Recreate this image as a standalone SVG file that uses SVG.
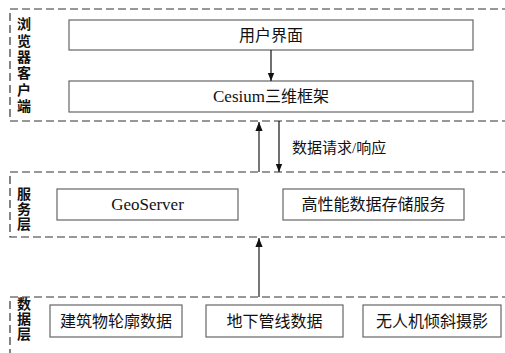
<svg xmlns="http://www.w3.org/2000/svg" width="505" height="353" viewBox="0 0 505 353">
<style>
.layer{fill:none;stroke:#333;stroke-width:1.2;stroke-dasharray:8,4}
.box{fill:#fff;stroke:#666;stroke-width:1.2}
.t{font-family:"Liberation Serif","Noto Sans CJK SC",serif;font-size:16px;fill:#111;text-anchor:middle}
.lat{font-size:17px}
.lab{font-family:"Noto Sans CJK SC","Liberation Sans",sans-serif;font-size:14px;font-weight:bold;fill:#111;writing-mode:vertical-rl;text-anchor:start}
.ak{stroke:#111;stroke-width:1.2;fill:none}
.ag{stroke:#777;stroke-width:2;fill:none}
</style>
<defs>
<marker id="hb" viewBox="0 0 10 10" refX="10" refY="5" markerWidth="8" markerHeight="8" markerUnits="userSpaceOnUse" orient="auto"><path d="M0,1 L10,5 L0,9 z" fill="#111"/></marker>
<marker id="hg" viewBox="0 0 10 10" refX="10" refY="5" markerWidth="9" markerHeight="9" markerUnits="userSpaceOnUse" orient="auto"><path d="M0,1 L10,5 L0,9 z" fill="#111"/></marker>
</defs>
<rect width="505" height="353" fill="#fff"/>
<g id="layer-browser">
<path class="layer" d="M510,9 H10 V121 H510"/>
<text class="lab" x="24" y="17" style="letter-spacing:2.3px">浏览器客户端</text>
</g>
<g id="layer-service">
<path class="layer" d="M510,172 H10 V237 H510"/>
<text class="lab" x="24" y="187" style="letter-spacing:1px">服务层</text>
</g>
<g id="layer-data">
<path class="layer" d="M510,297 H10 V360"/>
<text class="lab" x="24" y="297" style="letter-spacing:1px">数据层</text>
</g>
<g id="n-ui"><rect class="box" x="69" y="20" width="404" height="30"/><text class="t" x="271" y="41">用户界面</text></g>
<g id="n-cesium"><rect class="box" x="69" y="81" width="404" height="31"/><text class="t" x="271" y="102"><tspan class="lat">Cesium</tspan>三维框架</text></g>
<g id="n-geoserver"><rect class="box" x="57" y="189" width="181" height="31"/><text class="t lat" x="147.5" y="210">GeoServer</text></g>
<g id="n-storage"><rect class="box" x="283" y="189" width="181" height="31"/><text class="t" x="373.5" y="210">高性能数据存储服务</text></g>
<g id="n-building"><rect class="box" x="50" y="305" width="132" height="32"/><text class="t" x="116" y="327">建筑物轮廓数据</text></g>
<g id="n-pipe"><rect class="box" x="206" y="305" width="137" height="32"/><text class="t" x="274.5" y="327">地下管线数据</text></g>
<g id="n-uav"><rect class="box" x="363" y="305" width="138" height="32"/><text class="t" x="432" y="327">无人机倾斜摄影</text></g>
<g id="connectors">
<line class="ak" x1="271" y1="50" x2="271" y2="81" marker-end="url(#hb)"/>
<line class="ag" x1="259" y1="172" x2="259" y2="122" marker-end="url(#hg)"/>
<line class="ak" x1="279" y1="121" x2="279" y2="172" marker-end="url(#hb)"/>
<text class="t" x="292" y="153" style="text-anchor:start;font-size:15px">数据请求/响应</text>
<line class="ag" x1="259" y1="297" x2="259" y2="238" marker-end="url(#hg)"/>
</g>
</svg>
